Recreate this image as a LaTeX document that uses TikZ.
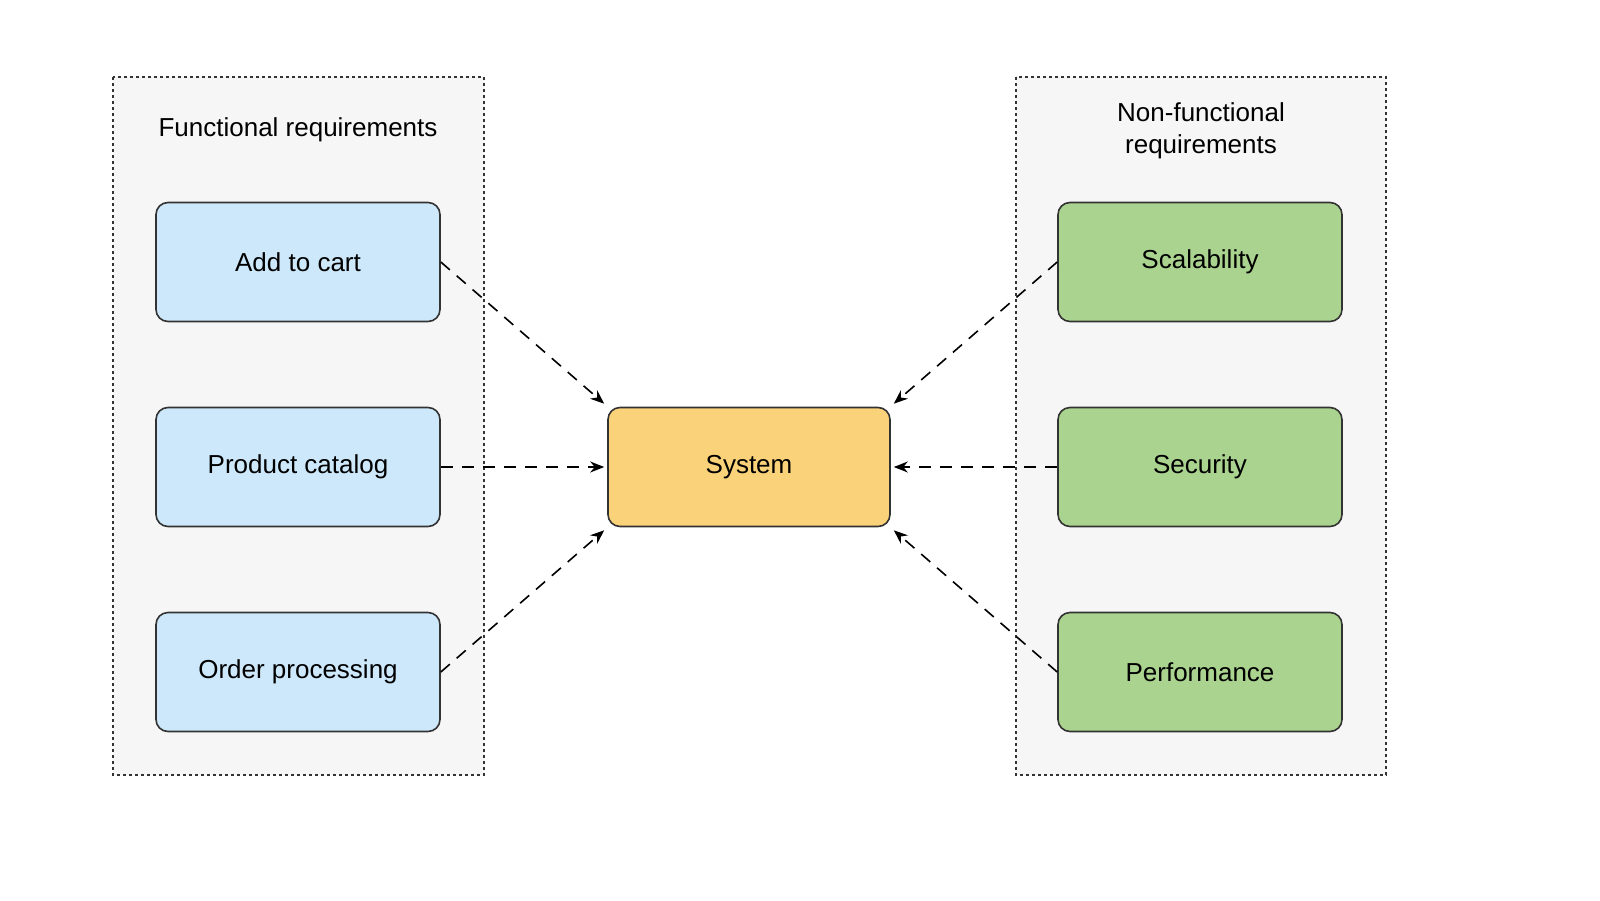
\documentclass[tikz,border=0pt]{standalone}
\usepackage{fontspec}
\setmainfont{Liberation Sans}
\usetikzlibrary{arrows.meta}
\begin{document}
\begin{tikzpicture}[x=1pt,y=-1pt,
 grp/.style={draw=black!80,dashed,line width=1.3pt,fill=gray!7,dash pattern=on 3pt off 3pt},
 box/.style={draw=black!80,line width=1.6pt,rounded corners=12pt,minimum width=284pt,minimum height=119pt,font=\fontsize{26}{30}\selectfont},
 fr/.style={box,fill=cyan!20!blue!5!white,fill={rgb,255:red,204;green,232;blue,250}},
 nf/.style={box,fill={rgb,255:red,169;green,211;blue,142}},
 sy/.style={box,minimum width=282pt,fill={rgb,255:red,250;green,210;blue,122}},
 con/.style={dashed,dash pattern=on 12pt off 9pt,line width=1.6pt,-{Stealth[length=14pt,width=11pt]}}]
\useasboundingbox (0,0) rectangle (1600,900);
\draw[grp] (113,77) rectangle (484,775);
\draw[grp] (1016,77) rectangle (1386,775);
\node[font=\fontsize{26}{30}\selectfont] (t1) at (298,130) {Functional requirements};
\node[font=\fontsize{26}{32}\selectfont,align=center] (t2) at (1201,131) {Non-functional\\requirements};
\node[fr] (a) at (298,262) {Add to cart};
\node[fr] (b) at (298,467) {Product catalog};
\node[fr] (c) at (298,672) {Order processing};
\node[nf] (d) at (1200,262) {Scalability};
\node[nf] (e) at (1200,467) {Security};
\node[nf] (f) at (1200,672) {Performance};
\node[sy] (s) at (749,467) {System};
\draw[con] (a.east) -- ([shift={(-3,-3)}]s.north west);
\draw[con] (b.east) -- ([xshift=-3pt]s.west);
\draw[con] (c.east) -- ([shift={(-3,3)}]s.south west);
\draw[con] (d.west) -- ([shift={(3,-3)}]s.north east);
\draw[con] (e.west) -- ([xshift=3pt]s.east);
\draw[con] (f.west) -- ([shift={(3,3)}]s.south east);
\end{tikzpicture}
\end{document}
